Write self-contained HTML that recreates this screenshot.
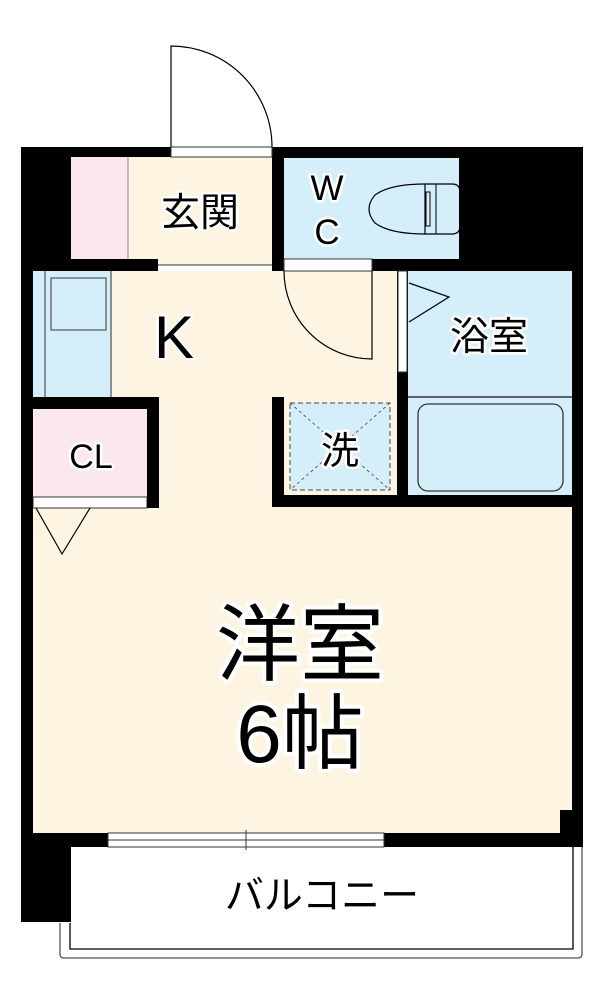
<!DOCTYPE html>
<html><head><meta charset="utf-8"><style>
html,body{margin:0;padding:0;background:#fff;}
svg{display:block;}
text{font-family:"Liberation Sans","Noto Sans CJK JP",sans-serif;fill:#000;paint-order:stroke;stroke:#fff;stroke-linejoin:round;}
</style></head><body>
<svg width="606" height="1000" viewBox="0 0 606 1000" xmlns="http://www.w3.org/2000/svg">
<path d="M60 923 V954 Q60 958 64 958 H578 Q582 958 582 954 V847" fill="none" stroke="#555" stroke-width="1.3"/>
<path d="M70 923 V949 H573 V847" fill="none" stroke="#000" stroke-width="1.3"/>
<rect x="33" y="271" width="540" height="562" fill="#fdf5e2"/>
<rect x="128" y="157" width="145" height="108" fill="#fdf5e2"/>
<rect x="71" y="157" width="57" height="102" fill="#fbe7ef"/>
<line x1="128" y1="157" x2="128" y2="259" stroke="#888" stroke-width="1"/>
<rect x="283" y="158" width="177" height="101" fill="#d5effa"/>
<rect x="407" y="271" width="166" height="226" fill="#d5effa"/>
<line x1="407" y1="397" x2="573" y2="397" stroke="#333" stroke-width="1.5"/>
<rect x="418" y="404" width="145" height="87" rx="10" fill="none" stroke="#333" stroke-width="1.3"/>
<rect x="33" y="271" width="79" height="126" fill="#d5effa"/>
<line x1="45" y1="271" x2="45" y2="397" stroke="#333" stroke-width="1"/>
<line x1="111" y1="271" x2="111" y2="397" stroke="#333" stroke-width="1"/>
<rect x="51" y="278" width="55" height="52" fill="none" stroke="#555" stroke-width="1.2"/>
<rect x="33" y="409" width="114" height="88" fill="#fbe7ef"/>
<rect x="33" y="497" width="114" height="11" fill="#fff" stroke="#333" stroke-width="1"/>
<rect x="290" y="403" width="100" height="87" fill="#d5effa" stroke="#444" stroke-width="1" stroke-dasharray="5,3"/>
<path d="M290 403 L390 490 M390 403 L290 490" stroke="#444" stroke-width="0.8" stroke-dasharray="3,3"/>
<g fill="#000">
<rect x="21" y="147" width="50" height="124"/>
<rect x="71" y="147" width="100" height="10"/>
<rect x="272" y="147" width="311" height="11"/>
<rect x="459" y="147" width="124" height="124"/>
<rect x="21" y="259" width="137" height="12"/>
<rect x="272" y="147" width="12" height="124"/>
<rect x="372" y="259" width="90" height="12"/>
<rect x="21" y="271" width="12" height="576"/>
<rect x="21" y="397" width="137" height="12"/>
<rect x="147" y="397" width="12" height="111"/>
<rect x="397" y="271" width="11" height="236"/>
<rect x="572" y="271" width="11" height="576"/>
<rect x="272" y="397" width="12" height="110"/>
<rect x="272" y="495" width="311" height="12"/>
<rect x="21" y="833" width="562" height="14"/>
<rect x="21" y="833" width="50" height="89"/>
<rect x="560" y="810" width="23" height="37"/>
</g>
<rect x="171" y="147" width="101" height="10" fill="#fff" stroke="#333" stroke-width="1"/>
<rect x="284" y="259" width="88" height="12" fill="#fff" stroke="#333" stroke-width="1"/>
<rect x="398" y="271" width="9" height="101" fill="#fff" stroke="#333" stroke-width="1"/>
<line x1="158" y1="265" x2="272" y2="265" stroke="#333" stroke-width="1"/>
<rect x="108" y="833" width="276" height="14" fill="#fff" stroke="#333" stroke-width="1"/>
<line x1="108" y1="840" x2="384" y2="840" stroke="#333" stroke-width="1"/>
<line x1="246" y1="830" x2="246" y2="850" stroke="#333" stroke-width="1"/>
<path d="M171 147 V46 A101 101 0 0 1 272 147" fill="none" stroke="#000" stroke-width="1.2"/>
<path d="M284 271 A88 88 0 0 0 372 359 V271" fill="none" stroke="#000" stroke-width="1.2"/>
<path d="M409 283 L449 297 L409 322" fill="none" stroke="#000" stroke-width="1.2"/>
<path d="M36 508 L62 554 L90 508" fill="none" stroke="#000" stroke-width="1.2"/>
<path d="M425 184 H452 Q460 184 460 192 V226 Q460 234 452 234 H425 Z" fill="none" stroke="#000" stroke-width="1.2"/>
<path d="M425 184 Q390 184 375 195 Q363 209 375 223 Q390 234 425 234" fill="none" stroke="#000" stroke-width="1.2"/>
<rect x="426" y="192" width="4" height="34" fill="none" stroke="#000" stroke-width="1"/>
<line x1="436" y1="184" x2="436" y2="234" stroke="#000" stroke-width="1"/>
<text x="200" y="226" font-size="39" text-anchor="middle" stroke-width="5">玄関</text>
<text x="327" y="200" font-size="35" text-anchor="middle" stroke-width="5">W</text>
<text x="327" y="244" font-size="35" text-anchor="middle" stroke-width="5">C</text>
<text x="174" y="358" font-size="60" text-anchor="middle" stroke-width="5">K</text>
<text x="489" y="350" font-size="39" text-anchor="middle" stroke-width="5">浴室</text>
<text x="91" y="468" font-size="34" text-anchor="middle" stroke-width="5">CL</text>
<text x="340" y="464" font-size="38" text-anchor="middle" stroke-width="5">洗</text>
<text x="300" y="674" font-size="84" text-anchor="middle" stroke-width="8">洋室</text>
<text x="300" y="762" font-size="82" text-anchor="middle" stroke-width="8">6帖</text>
<text x="322" y="909" font-size="39" text-anchor="middle" stroke-width="0">バルコニー</text>
</svg>
</body></html>
